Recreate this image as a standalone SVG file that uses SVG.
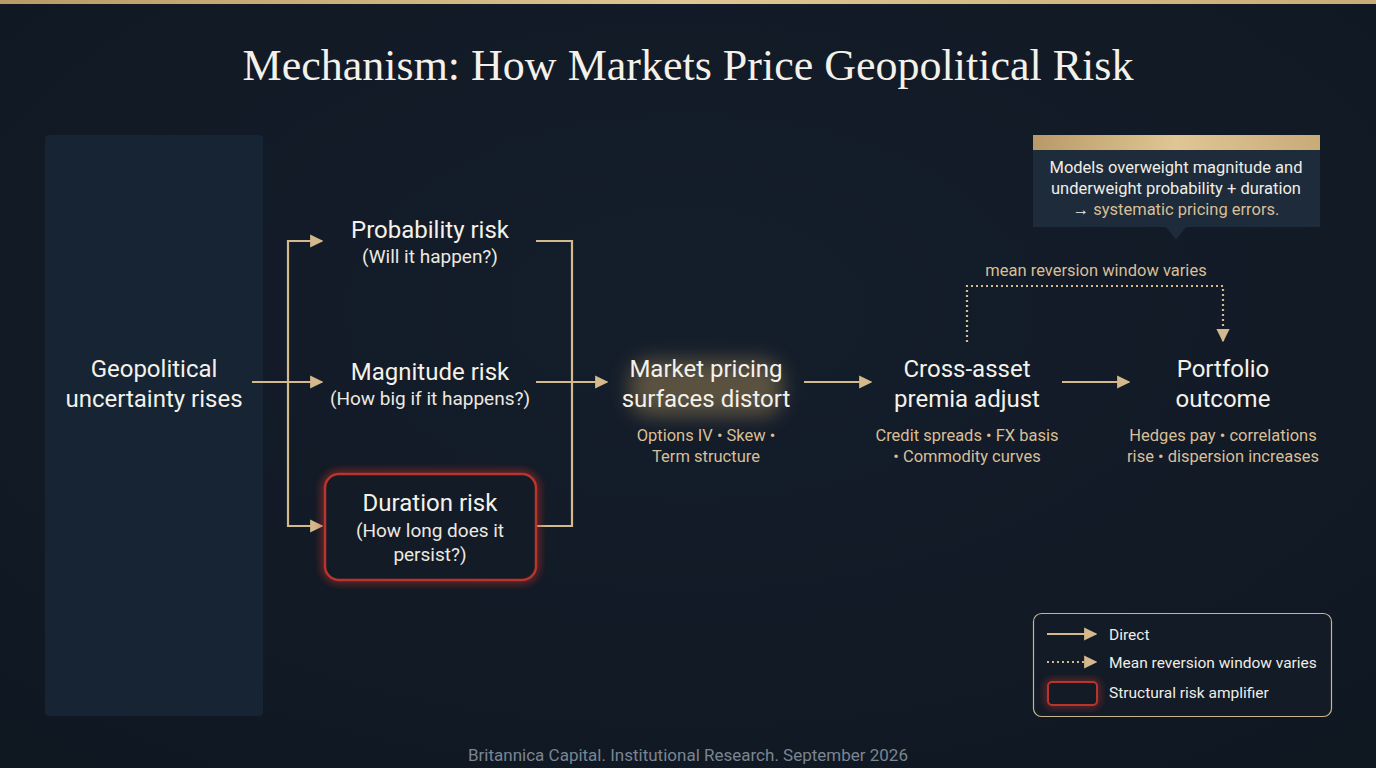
<svg xmlns="http://www.w3.org/2000/svg" width="1376" height="768" viewBox="0 0 1376 768">
<defs>
<style>
.s{font-family:Roboto,"Liberation Sans",sans-serif;text-anchor:middle}
.h{fill:#f4f1ea;font-size:24px}
.q{fill:#ece8e0;font-size:19px}
.g{fill:#d8bf98;font-size:16.5px}
.c{fill:none;stroke:#d4b98c;stroke-width:2.2}
.d{fill:none;stroke:#d4b98c;stroke-width:2.2;stroke-dasharray:2 3}
.l{font-family:Roboto,"Liberation Sans",sans-serif;fill:#f0ede6;font-size:15.5px}
</style>
<marker id="ah" viewBox="0 0 10 10" refX="9" refY="5" markerWidth="6" markerHeight="6" orient="auto" markerUnits="strokeWidth">
<path d="M0,0 L10,5 L0,10 z" fill="#d4b98c"/>
</marker>
<linearGradient id="gold" x1="0" x2="1" y1="0" y2="0">
<stop offset="0" stop-color="#b89a68"/><stop offset="0.5" stop-color="#e0c694"/><stop offset="1" stop-color="#c9ab78"/>
</linearGradient>
<filter id="redglow" x="-20%" y="-30%" width="140%" height="160%">
<feGaussianBlur stdDeviation="4"/>
</filter>
<filter id="goldglow" x="-30%" y="-50%" width="160%" height="200%">
<feGaussianBlur stdDeviation="10"/>
</filter>
<radialGradient id="bg" cx="0.5" cy="0.4" r="0.8">
<stop offset="0" stop-color="#141e2b"/><stop offset="1" stop-color="#0f1721"/>
</radialGradient>
</defs>
<rect width="1376" height="768" fill="url(#bg)"/>
<rect width="1376" height="4" fill="url(#gold)"/>
<text x="688" y="80" font-family="'Liberation Serif',serif" font-size="44" fill="#f4f1ea" text-anchor="middle">Mechanism: How Markets Price Geopolitical Risk</text>

<g id="geopolitical">
<rect x="45" y="135" width="218" height="581" rx="4" fill="#172433"/>
<text class="s h" x="154" y="377">Geopolitical</text>
<text class="s h" x="154" y="407">uncertainty rises</text>
</g>

<g id="connectors">
<path class="c" d="M252,382 H322" marker-end="url(#ah)"/>
<path class="c" d="M322,241 H288 V526 H322" marker-end="url(#ah)"/>
<path class="c" d="M288,241 H322" marker-end="url(#ah)"/>
<path class="c" d="M536,241 H572 V526 H536"/>
<path class="c" d="M536,382 H607" marker-end="url(#ah)"/>
<path class="c" d="M804,382 H871" marker-end="url(#ah)"/>
<path class="c" d="M1062,382 H1129" marker-end="url(#ah)"/>
<path class="d" d="M967,342 V286 H1223 V341" marker-end="url(#ah)"/>
<text class="s g" x="1096" y="276">mean reversion window varies</text>
</g>

<g id="probability">
<text class="s h" x="430" y="238">Probability risk</text>
<text class="s q" x="430" y="263">(Will it happen?)</text>
</g>

<g id="magnitude">
<text class="s h" x="430" y="380">Magnitude risk</text>
<text class="s q" x="430" y="405">(How big if it happens?)</text>
</g>

<g id="duration">
<rect x="325" y="474" width="211" height="106" rx="14" fill="none" stroke="#c0302a" stroke-width="5" filter="url(#redglow)" opacity="0.8"/>
<rect x="325" y="474" width="211" height="106" rx="14" fill="#131b26" stroke="#b8342c" stroke-width="2.5"/>
<text class="s h" x="430" y="511">Duration risk</text>
<text class="s q" x="430" y="537">(How long does it</text>
<text class="s q" x="430" y="561">persist?)</text>
</g>

<g id="market">
<rect x="630" y="360" width="152" height="56" rx="20" fill="#8a7450" opacity="0.6" filter="url(#goldglow)"/>
<text class="s h" x="706" y="377" fill="#f3ead8">Market pricing</text>
<text class="s h" x="706" y="407">surfaces distort</text>
<text class="s g" x="706" y="441">Options IV • Skew •</text>
<text class="s g" x="706" y="462">Term structure</text>
</g>

<g id="crossasset">
<text class="s h" x="967" y="377">Cross-asset</text>
<text class="s h" x="967" y="407">premia adjust</text>
<text class="s g" x="967" y="441">Credit spreads • FX basis</text>
<text class="s g" x="967" y="462">• Commodity curves</text>
</g>

<g id="portfolio">
<text class="s h" x="1223" y="377">Portfolio</text>
<text class="s h" x="1223" y="407">outcome</text>
<text class="s g" x="1223" y="441">Hedges pay • correlations</text>
<text class="s g" x="1223" y="462">rise • dispersion increases</text>
</g>

<g id="callout">
<rect x="1033" y="135" width="287" height="92" fill="#1d2b3a"/>
<path d="M1166,227 L1176,240 L1186,227 z" fill="#1d2b3a"/>
<rect x="1033" y="135" width="287" height="15" fill="url(#gold)"/>
<text class="s" x="1176" y="173" font-size="16.5" fill="#f0ede6">Models overweight magnitude and</text>
<text class="s" x="1176" y="194" font-size="16.5" fill="#f0ede6">underweight probability + duration</text>
<text class="s" x="1176" y="215" font-size="16.5" fill="#f0ede6">→ <tspan fill="#d8bf98">systematic pricing errors.</tspan></text>
</g>

<g id="legend">
<rect x="1033.5" y="613.5" width="298" height="103" rx="8" fill="#121b26" stroke="#c9b48e" stroke-width="1.2"/>
<path class="c" d="M1047,634 H1096" marker-end="url(#ah)"/>
<text class="l" x="1109" y="640">Direct</text>
<path class="d" d="M1047,662 H1096" marker-end="url(#ah)"/>
<text class="l" x="1109" y="668">Mean reversion window varies</text>
<rect x="1048" y="682" width="49" height="23" rx="4" fill="none" stroke="#c0302a" stroke-width="4" filter="url(#redglow)" opacity="0.8"/>
<rect x="1048" y="682" width="49" height="23" rx="4" fill="#131b26" stroke="#b8342c" stroke-width="2"/>
<text class="l" x="1109" y="698">Structural risk amplifier</text>
</g>

<text class="s" x="688" y="761" font-size="17" fill="#7b8591">Britannica Capital. Institutional Research. September 2026</text>
</svg>
